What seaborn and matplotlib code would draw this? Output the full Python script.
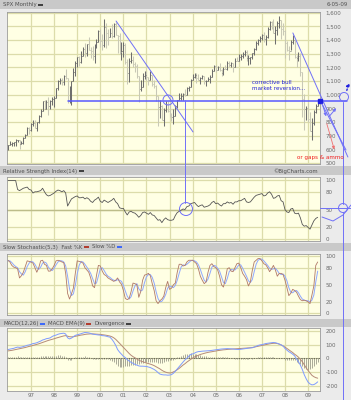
import matplotlib
matplotlib.use("Agg")
import matplotlib.pyplot as plt
import numpy as np
import pandas as pd
import seaborn as sns
from matplotlib.patches import Circle, Rectangle

W, H = 351, 400

# SPX monthly, Jan 1996 .. Jun 2009 (one row per year)
spx_high = [
    636, 664, 657, 656, 674, 673, 673, 666, 691, 714, 762, 762,
    795, 818, 815, 804, 852, 899, 958, 961, 961, 985, 960, 986,
    993, 1050, 1106, 1123, 1121, 1143, 1191, 1121, 1066, 1103, 1193, 1245,
    1280, 1284, 1317, 1352, 1376, 1374, 1420, 1352, 1357, 1373, 1408, 1473,
    1478, 1445, 1553, 1527, 1482, 1489, 1517, 1525, 1530, 1439, 1454, 1389,
    1383, 1376, 1264, 1269, 1316, 1287, 1240, 1226, 1136, 1111, 1163, 1173,
    1177, 1130, 1173, 1148, 1107, 1071, 995, 965, 924, 907, 952, 954,
    935, 865, 896, 924, 965, 1015, 1015, 1011, 1040, 1054, 1064, 1113,
    1155, 1159, 1163, 1151, 1128, 1146, 1141, 1109, 1132, 1142, 1189, 1218,
    1218, 1212, 1229, 1192, 1200, 1220, 1245, 1246, 1243, 1233, 1271, 1276,
    1295, 1298, 1311, 1327, 1327, 1291, 1280, 1307, 1340, 1390, 1408, 1432,
    1442, 1462, 1439, 1498, 1536, 1541, 1556, 1504, 1539, 1576, 1545, 1524,
    1472, 1396, 1360, 1404, 1440, 1404, 1292, 1313, 1303, 1167, 1008, 919,
    944, 875, 833, 889, 930, 952,
]
spx_low = [
    597, 634, 628, 624, 630, 658, 606, 640, 643, 686, 704, 717,
    737, 773, 756, 734, 793, 840, 882, 898, 899, 855, 894, 925,
    913, 976, 1033, 1077, 1074, 1075, 1114, 940, 940, 923, 1099, 1137,
    1204, 1212, 1235, 1282, 1277, 1281, 1329, 1269, 1256, 1234, 1341, 1387,
    1350, 1325, 1347, 1339, 1361, 1421, 1414, 1421, 1436, 1306, 1295, 1254,
    1275, 1228, 1081, 1092, 1232, 1203, 1166, 1125, 945, 1027, 1054, 1115,
    1102, 1074, 1107, 1064, 1049, 953, 776, 833, 815, 769, 872, 873,
    840, 806, 789, 848, 903, 964, 962, 961, 990, 996, 1031, 1055,
    1105, 1124, 1087, 1107, 1076, 1113, 1079, 1061, 1101, 1090, 1128, 1174,
    1164, 1181, 1177, 1136, 1146, 1188, 1184, 1201, 1205, 1168, 1201, 1247,
    1246, 1254, 1268, 1281, 1245, 1219, 1225, 1261, 1291, 1327, 1361, 1386,
    1404, 1389, 1364, 1416, 1477, 1484, 1454, 1371, 1439, 1490, 1406, 1436,
    1270, 1317, 1257, 1324, 1374, 1272, 1200, 1249, 1134, 840, 741, 819,
    804, 735, 667, 783, 866, 919,
]
spx_close = [
    636, 640, 646, 654, 669, 671, 640, 652, 687, 705, 757, 741,
    786, 791, 757, 801, 848, 885, 954, 900, 947, 915, 955, 970,
    980, 1049, 1102, 1112, 1091, 1134, 1121, 957, 1017, 1099, 1164, 1229,
    1280, 1238, 1286, 1335, 1302, 1373, 1329, 1320, 1283, 1363, 1389, 1469,
    1394, 1366, 1499, 1452, 1421, 1455, 1431, 1518, 1437, 1429, 1315, 1320,
    1366, 1240, 1160, 1249, 1256, 1224, 1211, 1134, 1041, 1060, 1139, 1148,
    1130, 1107, 1147, 1077, 1067, 990, 912, 916, 815, 886, 936, 880,
    856, 841, 848, 917, 964, 975, 990, 1008, 996, 1051, 1058, 1112,
    1131, 1145, 1126, 1107, 1121, 1141, 1102, 1104, 1115, 1130, 1174, 1212,
    1181, 1204, 1181, 1157, 1192, 1191, 1234, 1220, 1229, 1207, 1250, 1248,
    1280, 1281, 1295, 1311, 1270, 1270, 1277, 1304, 1336, 1378, 1401, 1418,
    1438, 1407, 1421, 1482, 1531, 1503, 1455, 1474, 1527, 1549, 1481, 1468,
    1379, 1331, 1323, 1386, 1400, 1280, 1267, 1283, 1166, 969, 896, 903,
    826, 735, 798, 873, 919, 940,
]

rsi_14 = [
    99, 99, 99, 99, 99, 84, 82, 84, 86, 87, 88, 84,
    83, 78, 80, 80, 81, 82, 86, 80, 75, 73, 74, 76,
    78, 81, 83, 82, 80, 82, 78, 56, 62, 68, 70, 72,
    73, 70, 70, 71, 68, 70, 68, 64, 62, 66, 68, 71,
    64, 62, 66, 64, 62, 64, 66, 69, 63, 60, 53, 52,
    52, 46, 41, 46, 47, 45, 44, 41, 37, 40, 45, 46,
    44, 42, 45, 41, 40, 36, 32, 33, 28, 33, 36, 33,
    32, 32, 33, 40, 45, 47, 49, 51, 50, 55, 56, 60,
    61, 62, 58, 55, 57, 58, 54, 55, 56, 58, 62, 64,
    60, 61, 58, 56, 60, 60, 63, 61, 62, 59, 63, 63,
    65, 65, 67, 69, 63, 62, 63, 67, 71, 74, 75, 76,
    77, 73, 74, 78, 80, 76, 69, 70, 73, 74, 65, 63,
    50, 46, 45, 51, 52, 44, 43, 44, 36, 25, 22, 23,
    20, 17, 24, 31, 35, 37,
]

stoch_k = [
    93, 90, 84, 81, 80, 78, 62, 66, 72, 82, 92, 91,
    90, 88, 80, 72, 80, 92, 93, 86, 84, 74, 74, 78,
    84, 92, 93, 92, 90, 89, 70, 35, 25, 34, 44, 70,
    92, 91, 90, 88, 80, 76, 72, 62, 48, 45, 66, 84,
    83, 74, 68, 66, 62, 60, 58, 56, 58, 62, 55, 51,
    40, 26, 24, 26, 38, 53, 52, 50, 28, 38, 58, 67,
    68, 70, 66, 52, 40, 22, 17, 22, 25, 30, 45, 56,
    42, 44, 50, 53, 72, 86, 86, 83, 84, 90, 93, 93,
    93, 90, 87, 78, 65, 58, 52, 55, 72, 84, 87, 82,
    80, 76, 65, 50, 46, 60, 78, 80, 74, 73, 80, 87,
    88, 80, 70, 65, 59, 48, 55, 75, 90, 93, 96, 96,
    92, 87, 85, 80, 73, 78, 84, 76, 65, 70, 70, 68,
    58, 45, 31, 35, 42, 40, 37, 30, 24, 22, 23, 22,
    20, 17, 32, 48, 84, 90,
]
stoch_d = [
    92, 92, 89, 85, 82, 80, 73, 69, 67, 73, 82, 88,
    91, 90, 86, 80, 77, 81, 88, 90, 88, 81, 77, 75,
    79, 85, 90, 92, 92, 90, 83, 65, 43, 31, 34, 49,
    69, 84, 91, 90, 86, 81, 76, 70, 61, 52, 53, 65,
    78, 80, 75, 69, 65, 63, 60, 58, 57, 59, 58, 56,
    49, 39, 30, 25, 29, 39, 48, 52, 43, 39, 41, 54,
    64, 68, 68, 63, 53, 38, 26, 20, 21, 26, 33, 44,
    48, 47, 45, 49, 58, 70, 81, 85, 84, 86, 89, 92,
    93, 92, 90, 85, 77, 67, 58, 55, 60, 70, 81, 84,
    83, 79, 74, 64, 54, 52, 61, 73, 77, 76, 76, 80,
    85, 85, 79, 72, 65, 57, 54, 59, 73, 86, 93, 95,
    95, 92, 88, 84, 79, 77, 78, 79, 75, 70, 68, 69,
    65, 57, 45, 37, 36, 39, 40, 36, 30, 25, 23, 22,
    22, 20, 23, 32, 55, 74,
]

macd_line = [
    64, 67, 70, 73, 78, 82, 80, 82, 86, 90, 95, 98,
    102, 108, 110, 114, 120, 126, 134, 138, 144, 146, 150, 160,
    166, 170, 176, 180, 182, 184, 178, 150, 142, 148, 158, 168,
    172, 176, 180, 185, 189, 188, 186, 182, 177, 175, 173, 171,
    170, 166, 165, 162, 158, 155, 140, 120, 95, 64, 45, 30,
    15, 5, -10, -20, -30, -37, -45, -50, -56, -58, -58, -59,
    -60, -64, -68, -75, -82, -92, -105, -116, -120, -122, -122, -124,
    -123, -120, -110, -95, -78, -62, -45, -28, -12, 0, 15, 28,
    32, 38, 45, 49, 50, 52, 53, 54, 55, 56, 58, 60,
    62, 64, 66, 68, 69, 70, 71, 70, 69, 68, 66, 65,
    64, 66, 68, 70, 72, 74, 76, 77, 82, 88, 94, 98,
    100, 104, 108, 110, 112, 114, 116, 114, 110, 104, 98, 90,
    72, 60, 48, 40, 30, 18, -5, -25, -50, -82, -120, -150,
    -175, -188, -195, -193, -185, -173,
]
macd_signal = [
    54, 56, 58, 61, 64, 67, 70, 73, 76, 79, 83, 87,
    90, 94, 98, 102, 106, 111, 116, 121, 126, 131, 135, 139,
    143, 148, 152, 156, 160, 164, 166, 162, 158, 157, 158, 161,
    164, 167, 170, 172, 175, 177, 178, 179, 179, 178, 177, 176,
    175, 173, 171, 169, 166, 163, 158, 150, 139, 125, 110, 95,
    80, 65, 50, 35, 22, 12, 4, -5, -14, -20, -25, -30,
    -35, -39, -43, -48, -54, -62, -70, -78, -88, -96, -102, -106,
    -108, -106, -100, -93, -84, -74, -62, -50, -40, -28, -18, -8,
    2, 10, 16, 22, 28, 32, 36, 40, 43, 46, 48, 51,
    53, 56, 58, 60, 62, 63, 65, 66, 67, 68, 69, 70,
    71, 72, 73, 74, 75, 76, 77, 79, 82, 85, 88, 91,
    94, 97, 100, 103, 106, 108, 110, 110, 108, 104, 98, 90,
    82, 72, 62, 52, 42, 30, 20, 8, -8, -25, -48, -70,
    -90, -108, -125, -135, -142, -146,
]
macd_hist = [
    8, 9, 10, 10, 12, 14, 10, 8, 8, 9, 10, 10,
    10, 12, 10, 10, 12, 14, 16, 15, 16, 14, 14, 18,
    20, 20, 22, 22, 20, 18, 12, -10, -16, -10, 0, 6,
    8, 9, 10, 12, 14, 10, 8, 4, -2, -3, -4, -5,
    -6, -8, -6, -7, -8, -10, -18, -30, -44, -60, -65, -65,
    -65, -60, -60, -55, -52, -48, -48, -45, -42, -38, -33, -29,
    -25, -25, -25, -27, -28, -30, -35, -38, -32, -26, -20, -18,
    -15, -14, -10, -2, 6, 12, 17, 22, 28, 28, 33, 36,
    30, 28, 29, 27, 22, 20, 17, 14, 12, 10, 10, 9,
    9, 8, 8, 8, 7, 7, 6, 4, 2, 0, -3, -5,
    -7, -6, -5, -4, -3, -2, -1, -2, 0, 3, 6, 7,
    6, 7, 8, 7, 6, 6, 6, 4, 2, 0, 0, 0,
    -10, -12, -14, -12, -12, -12, -25, -33, -42, -57, -72, -80,
    -85, -80, -70, -58, -43, -27,
]

year_labels = ["97", "98", "99", "00", "01", "02", "03", "04", "05", "06", "07", "08", "09"]
price_ticks = [500, 600, 700, 800, 900, 1000, 1100, 1200, 1300, 1400, 1500, 1600]
osc_ticks = [0, 20, 50, 80, 100]
macd_ticks = [-200, -100, 0, 100, 200]

YELLOW = "#FFFFE4"
GRID = "#DCDCAA"
OUTER = "#EBEBEB"
HEADER = "#C9C9C9"
LABEL = "#6A6A6A"
ANNO = "#7070F8"
RED = "#B03020"
BLUE = "#3060FF"
DARK = "#333333"

sns.set_style("white")
plt.rcParams["font.family"] = ["DejaVu Sans"]

n = len(spx_close)
df = pd.DataFrame({
    "month": np.arange(n),
    "high": spx_high, "low": spx_low, "close": spx_close,
    "rsi": rsi_14, "k": stoch_k, "d": stoch_d,
    "macd": macd_line, "signal": macd_signal, "hist": macd_hist,
})
df["open"] = df["close"].shift(1).fillna(df["close"])
df["up"] = df["close"] >= df["open"]
year_pos = [12 * (k + 1) for k in range(len(year_labels))]

fig = plt.figure(figsize=(W / 100, H / 100), dpi=100)
fig.patch.set_facecolor(OUTER)
renderer = fig.canvas.get_renderer()


def px_rect(x0, y0, x1, y1):
    return [x0 / W, 1 - y1 / H, (x1 - x0) / W, (y1 - y0) / H]


# background layer with header bars
bg = fig.add_axes([0, 0, 1, 1], zorder=0)
bg.set_xlim(0, W)
bg.set_ylim(H, 0)
bg.axis("off")
for y0, y1 in [(0, 9), (166, 175), (243, 251), (319, 327)]:
    bg.add_patch(Rectangle((0, y0), W, y1 - y0, color=HEADER, lw=0))


def header(y, parts, x=3):
    # parts: list of (text, swatch colour or None)
    for txt, sw in parts:
        t = bg.text(x, y, txt, fontsize=3.9, color="#505050", va="center", ha="left")
        x += t.get_window_extent(renderer).width + 1.5
        if sw:
            bg.plot([x, x + 5], [y, y], color=sw, lw=1.3, solid_capstyle="butt")
            x += 8


header(4.5, [("SPX Monthly", DARK)])
bg.text(348, 4.5, "6-05-09", fontsize=3.9, color="#505050", va="center", ha="right")
header(171, [("Relative Strength Index(14)", DARK)])
bg.text(318, 171, "\u00a9BigCharts.com", fontsize=3.9, color="#505050", va="center", ha="right")
header(247, [("Slow Stochastic(5,3)  Fast %K", RED), ("Slow %D", BLUE)])
header(323.5, [("MACD(12,26)", BLUE), ("MACD EMA(9)", RED), ("Divergence", DARK)])


def style_panel(ax, yticks, ylim, ticklabels=None):
    ax.set_facecolor(YELLOW)
    ax.set_xlim(-0.5, 162.2)
    ax.set_ylim(*ylim)
    ax.set_xticks(year_pos)
    ax.set_yticks(yticks)
    ax.set_yticklabels(ticklabels if ticklabels else [str(t) for t in yticks])
    ax.yaxis.tick_right()
    ax.tick_params(axis="y", length=0, pad=4, labelsize=4, labelcolor=LABEL)
    ax.tick_params(axis="x", length=0, labelbottom=False)
    ax.grid(True, color=GRID, lw=0.9)
    ax.set_axisbelow(True)
    for s in ax.spines.values():
        s.set_color("#9A9A9A")
        s.set_linewidth(0.6)
    ax.set_xlabel("")
    ax.set_ylabel("")


# price panel
ax_p = fig.add_axes(px_rect(7, 12, 320, 164), zorder=1)
style_panel(ax_p, price_ticks, (495, 1605), [f"{t:,}" for t in price_ticks])
bar_col = np.where(df["up"], "#6E6E6E", "#C9C9B6")
ax_p.vlines(df["month"], df["low"], df["high"], colors=bar_col, lw=0.75)
ax_p.hlines(df["close"], df["month"], df["month"] + 0.5, colors=bar_col, lw=0.6)
ax_p.hlines(df["open"], df["month"] - 0.5, df["month"], colors=bar_col, lw=0.6)

# trend / level lines drawn on the price chart
level = 957
ax_p.plot([31, 176], [level, level], color="#5858FF", lw=1.1, clip_on=False, zorder=4,
          snap=True)
ax_p.plot([56.2, 96.2], [1539, 729], color=ANNO, lw=0.7, zorder=4)
ax_p.plot([148.1, 176.7], [1452, 546], color=ANNO, lw=0.7, clip_on=False, zorder=4)
ax_p.plot([162.3], [level], marker="s", ms=2.2, color="#2020E0", clip_on=False, zorder=5)

# RSI panel
ax_r = fig.add_axes(px_rect(7, 177, 320, 241), zorder=1)
sns.lineplot(data=df, x="month", y="rsi", ax=ax_r, color="#555555", lw=0.6)
style_panel(ax_r, osc_ticks, (-3, 105))
ax_r.axhline(50, color="#BDBD8A", lw=1.0, zorder=1)

# Stochastic panel
ax_s = fig.add_axes(px_rect(7, 254, 320, 315), zorder=1)
sns.lineplot(data=df, x="month", y="d", ax=ax_s, color="#8FA8FF", lw=0.7)
sns.lineplot(data=df, x="month", y="k", ax=ax_s, color="#B07868", lw=0.6)
style_panel(ax_s, osc_ticks, (-3, 104))

# MACD panel
ax_m = fig.add_axes(px_rect(7, 328, 320, 391), zorder=1)
ax_m.vlines(df["month"], 0, df["hist"], colors="#9C9C8C", lw=0.6)
ax_m.axhline(0, color="#444444", lw=0.6, ls=(0, (1, 1)), zorder=2)
sns.lineplot(data=df, x="month", y="signal", ax=ax_m, color="#B58A78", lw=0.7)
sns.lineplot(data=df, x="month", y="macd", ax=ax_m, color="#7F9BFF", lw=0.7)
style_panel(ax_m, macd_ticks, (-240, 222))
ax_m.set_xticklabels(year_labels)
ax_m.tick_params(axis="x", labelbottom=True, labelsize=4, labelcolor=LABEL, pad=1.5)

# freehand annotations on top (figure pixel space)
ov = fig.add_axes([0, 0, 1, 1], zorder=5)
ov.set_xlim(0, W)
ov.set_ylim(H, 0)
ov.axis("off")
ov.patch.set_alpha(0)
for cx, cy, r in [(168, 100, 5), (186, 209, 6.5), (344, 97, 4.5), (343, 208, 4.5)]:
    ov.add_patch(Circle((cx, cy), r, fill=False, ec=ANNO, lw=0.7))
ov.plot([185, 185], [100, 202.5], color=ANNO, lw=0.7)
ov.plot([343, 343], [101.5, 203.5], color=ANNO, lw=0.7)
ov.plot([343, 343], [212.5, 400], color=ANNO, lw=0.7)
ov.plot([320, 351], [208, 208], color=ANNO, lw=0.7)
ov.plot([322, 333, 343, 351], [217, 221, 215, 205], color=ANNO, lw=0.7)
ov.plot([322, 346], [104, 150], color=ANNO, lw=0.7)
ov.annotate("", xy=(327, 119), xytext=(322, 103),
            arrowprops=dict(arrowstyle="-|>", color=ANNO, lw=0.7, mutation_scale=4))
ov.annotate("", xy=(338, 106), xytext=(327, 119),
            arrowprops=dict(arrowstyle="-|>", color=ANNO, lw=0.7, mutation_scale=4))
ov.annotate("", xy=(350, 80), xytext=(346, 93),
            arrowprops=dict(arrowstyle="-|>", color="#2020E0", lw=1.0, ls=":", mutation_scale=5))
ov.annotate("", xy=(335, 152), xytext=(326, 121),
            arrowprops=dict(arrowstyle="-|>", color="#F07070", lw=0.6, mutation_scale=4))
ov.text(252, 83, "corrective bull", fontsize=4.1, color="#2424D8", va="center")
ov.text(252, 89, "market reversion...", fontsize=4.1, color="#2424D8", va="center")
ov.text(297, 157, "or gaps & ammo", fontsize=4.1, color="#F02020", va="center")

fig.savefig("out.png", dpi=100, facecolor=fig.get_facecolor())
